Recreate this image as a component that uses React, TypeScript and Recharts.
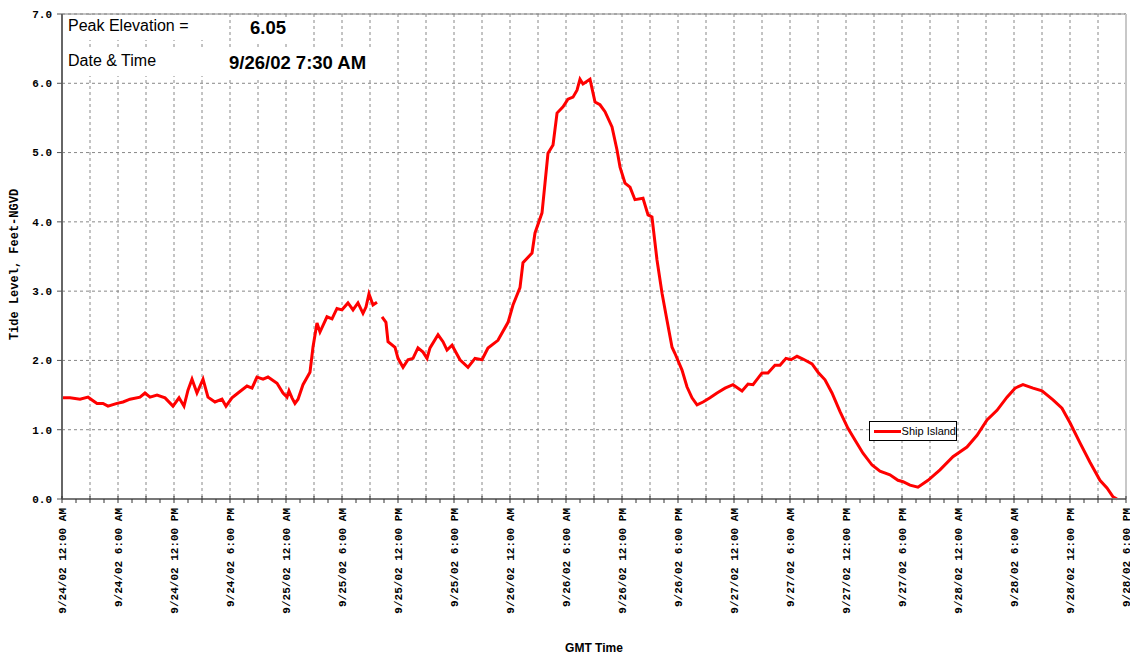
import React from 'react';
import {
  LineChart,
  Line,
  XAxis,
  YAxis,
  CartesianGrid,
  ReferenceLine,
} from 'recharts';

// hours since 9/24/02 12:00 AM (GMT)
const hours = [
  0, 0.86, 1.93, 2.79, 3.75, 4.39, 4.93, 5.89, 6.54, 7.29, 8.36, 8.89, 9.43, 10.18, 11.04,
  11.89, 12.54, 13.07, 13.5, 13.93, 14.46, 15.11, 15.64, 16.39, 17.14, 17.57, 18.21, 18.86,
  19.82, 20.36, 20.89, 21.54, 22.07, 23.04, 23.68, 24.11, 24.32, 24.64, 24.96, 25.29, 25.82,
  26.57, 26.89, 27.32, 27.64, 28.39, 28.93, 29.46, 30.0, 30.64, 31.18, 31.71, 32.25, 32.57,
  32.89, 33.32, 33.75, 34.0, 34.29, 34.71, 34.93, 35.68, 36.0, 36.54, 37.07, 37.61, 38.14,
  38.68, 39.11, 39.43, 40.29, 40.82, 41.25, 41.79, 42.64, 43.5, 44.25, 45.0, 45.64, 46.71,
  47.79, 48.32, 49.07, 49.39, 50.36, 50.68, 51.43, 51.75, 52.07, 52.61, 53.04, 53.68, 54.21,
  54.75, 55.18, 55.5, 55.82, 56.14, 56.57, 57.11, 57.64, 58.18, 58.93, 59.46, 59.79, 60.32,
  60.86, 61.39, 62.25, 62.79, 63.21, 63.75, 64.29, 64.82, 65.36, 65.68, 66.43, 66.96, 67.5,
  68.04, 68.68, 69.43, 70.18, 71.04, 71.89, 72.86, 73.5, 74.04, 75.0, 75.64, 76.39, 76.93,
  77.57, 78.11, 78.75, 79.39, 80.36, 81.0, 81.75, 82.5, 83.36, 84.21, 84.96, 85.82, 86.79,
  87.64, 88.71, 89.57, 90.11, 90.86, 91.71, 92.79, 94.07, 95.46, 96.96, 98.04, 99.11, 100.18,
  101.25, 102.11, 102.96, 104.04, 105.0, 106.18, 107.14, 108.0, 109.07, 110.14, 111.21,
  111.96, 112.61, 113.04,
];

// tide level, feet NGVD (null = gap in record)
const shipIsland = [
  1.46, 1.46, 1.44, 1.47, 1.38, 1.38, 1.34, 1.38, 1.4, 1.44, 1.47, 1.53, 1.47, 1.5, 1.46,
  1.34, 1.46, 1.34, 1.57, 1.73, 1.53, 1.73, 1.47, 1.4, 1.44, 1.34, 1.46, 1.53,
  1.63, 1.6, 1.76, 1.73, 1.76, 1.67, 1.53, 1.47, 1.56, 1.46, 1.38, 1.44, 1.65,
  1.83, 2.19, 2.54, 2.41, 2.63, 2.6, 2.75, 2.73, 2.83, 2.73, 2.83, 2.68, 2.77,
  2.96, 2.8, 2.84, null, 2.63, 2.55, 2.27, 2.19, 2.03, 1.9, 2.01, 2.03, 2.18,
  2.12, 2.03, 2.18, 2.37, 2.27, 2.15, 2.22, 2.01, 1.9, 2.03, 2.01, 2.18, 2.29,
  2.55, 2.8, 3.05, 3.41, 3.55, 3.84, 4.13, 4.56, 4.99, 5.11, 5.57, 5.66, 5.77,
  5.8, 5.9, 6.06, 5.99, 6.02, 6.06, 5.73, 5.69, 5.59, 5.37, 5.04, 4.79, 4.56,
  4.5, 4.32, 4.34, 4.1, 4.07, 3.45, 2.97, 2.58, 2.19, 2.1, 1.86, 1.62, 1.46,
  1.36, 1.4, 1.46, 1.53, 1.6, 1.65, 1.56, 1.66, 1.65, 1.82, 1.82, 1.93, 1.93,
  2.03, 2.01, 2.06, 2.02, 1.95, 1.83, 1.72, 1.53, 1.26, 1.02, 0.85, 0.66, 0.49,
  0.4, 0.35, 0.27, 0.25, 0.2, 0.17, 0.27, 0.42, 0.61, 0.75, 0.92, 1.14, 1.28,
  1.47, 1.6, 1.65, 1.6, 1.56, 1.43, 1.31, 1.1, 0.81, 0.53, 0.27,
  0.16, 0.03, 0.0,
];

const dateLabels = [
  '9/24/02 12:00 AM', '9/24/02 6:00 AM', '9/24/02 12:00 PM', '9/24/02 6:00 PM',
  '9/25/02 12:00 AM', '9/25/02 6:00 AM', '9/25/02 12:00 PM', '9/25/02 6:00 PM',
  '9/26/02 12:00 AM', '9/26/02 6:00 AM', '9/26/02 12:00 PM', '9/26/02 6:00 PM',
  '9/27/02 12:00 AM', '9/27/02 6:00 AM', '9/27/02 12:00 PM', '9/27/02 6:00 PM',
  '9/28/02 12:00 AM', '9/28/02 6:00 AM', '9/28/02 12:00 PM', '9/28/02 6:00 PM',
];

const yTicks = [0, 1, 2, 3, 4, 5, 6, 7];
const X_MAX = 114;
const tickHours = Array.from({ length: X_MAX / 1.5 + 1 }, (_, i) => i * 1.5);
const gridHours = Array.from({ length: X_MAX / 3 + 1 }, (_, i) => i * 3);

const data = hours.map((h, i) => ({ h, level: shipIsland[i] }));

const mono = '"Liberation Mono", "DejaVu Sans Mono", monospace';
const sans = '"Liberation Sans", Arial, sans-serif';

const XTick = ({ x, y, payload }: any) => {
  const h = payload.value;
  const major = h % 3 === 0;
  const labelIdx = h % 6 === 0 ? h / 6 : -1;
  return (
    <g>
      <line x1={x} x2={x} y1={major ? y - 3 : y} y2={y + 4} stroke="#333" strokeWidth={1} />
      {labelIdx >= 0 && dateLabels[labelIdx] && (
        <text
          transform={`translate(${x + 4},${y + 9}) rotate(-90)`}
          textAnchor="end"
          fontFamily={mono}
          fontWeight="bold"
          fontSize={11}
          fill="#000"
        >
          {dateLabels[labelIdx]}
        </text>
      )}
    </g>
  );
};

const textStyle: React.CSSProperties = {
  position: 'absolute',
  fontFamily: sans,
  color: '#000',
  whiteSpace: 'nowrap',
  lineHeight: 1.15,
};

export default function App() {
  return (
    <div style={{ position: 'absolute', left: 0, top: 0, width: 1130, height: 658, background: '#fff' }}>
      <LineChart
        width={1130}
        height={658}
        data={data}
        margin={{ top: 14, right: 4, bottom: 0, left: 0 }}
      >
        <CartesianGrid
          stroke="#888"
          strokeDasharray="3 3"
          verticalCoordinatesGenerator={({ offset }: any) =>
            gridHours.map((g) => offset.left + (g / X_MAX) * offset.width)
          }
        />
        <ReferenceLine y={7} stroke="#888" strokeWidth={1} />
        <ReferenceLine x={X_MAX} stroke="#c8c8c8" strokeWidth={2} />
        <XAxis
          dataKey="h"
          type="number"
          domain={[0, X_MAX]}
          ticks={tickHours}
          interval={0}
          tickLine={false}
          tickSize={0}
          tickMargin={0}
          tick={<XTick />}
          height={159}
          axisLine={{ stroke: '#777', strokeWidth: 2 }}
          label={{
            value: 'GMT Time',
            position: 'insideBottom',
            offset: 6,
            style: { fontFamily: sans, fontWeight: 'bold', fontSize: 12, fill: '#000' },
          }}
        />
        <YAxis
          type="number"
          domain={[0, 7]}
          ticks={yTicks}
          width={62}
          tickSize={5}
          tickMargin={5}
          tickFormatter={(v: number) => v.toFixed(1)}
          tick={{ fontFamily: mono, fontWeight: 'bold', fontSize: 11, fill: '#000' }}
          tickLine={{ stroke: '#555' }}
          axisLine={{ stroke: '#666', strokeWidth: 2 }}
          label={{
            value: 'Tide Level, Feet-NGVD',
            angle: -90,
            position: 'insideLeft',
            offset: 14,
            dy: 8,
            style: { fontFamily: mono, fontWeight: 'bold', fontSize: 12, fill: '#000', textAnchor: 'middle' },
          }}
        />
        <Line
          type="linear"
          dataKey="level"
          name="Ship Island"
          stroke="#ff0000"
          strokeWidth={3}
          dot={false}
          connectNulls={false}
          isAnimationActive={false}
        />
      </LineChart>

      {/* legend */}
      <div
        style={{
          position: 'absolute',
          left: 869,
          top: 421,
          width: 86,
          height: 18,
          border: '1px solid #000',
          background: '#fff',
          display: 'flex',
          alignItems: 'center',
          fontFamily: sans,
          fontSize: 11,
          whiteSpace: 'nowrap',
        }}
      >
        <span style={{ display: 'inline-block', width: 27, height: 3, background: '#ff0000', marginLeft: 4 }} />
        <span style={{ marginLeft: 1 }}>Ship Island</span>
      </div>

      {/* peak annotation */}
      <div style={{ position: 'absolute', left: 63, top: 15, width: 152, height: 25, background: '#fff' }} />
      <div style={{ position: 'absolute', left: 63, top: 49, width: 140, height: 27, background: '#fff' }} />
      <div style={{ position: 'absolute', left: 240, top: 17, width: 62, height: 24, background: '#fff' }} />
      <div style={{ position: 'absolute', left: 224, top: 49, width: 152, height: 28, background: '#fff' }} />

      <div style={{ ...textStyle, left: 68, top: 17, fontSize: 16 }}>Peak Elevation =</div>
      <div style={{ ...textStyle, left: 68, top: 52, fontSize: 16 }}>Date &amp; Time</div>
      <div style={{ ...textStyle, left: 250, top: 17, fontSize: 18.5, fontWeight: 'bold' }}>6.05</div>
      <div style={{ ...textStyle, left: 229, top: 52, fontSize: 18.5, fontWeight: 'bold' }}>9/26/02 7:30 AM</div>
    </div>
  );
}
